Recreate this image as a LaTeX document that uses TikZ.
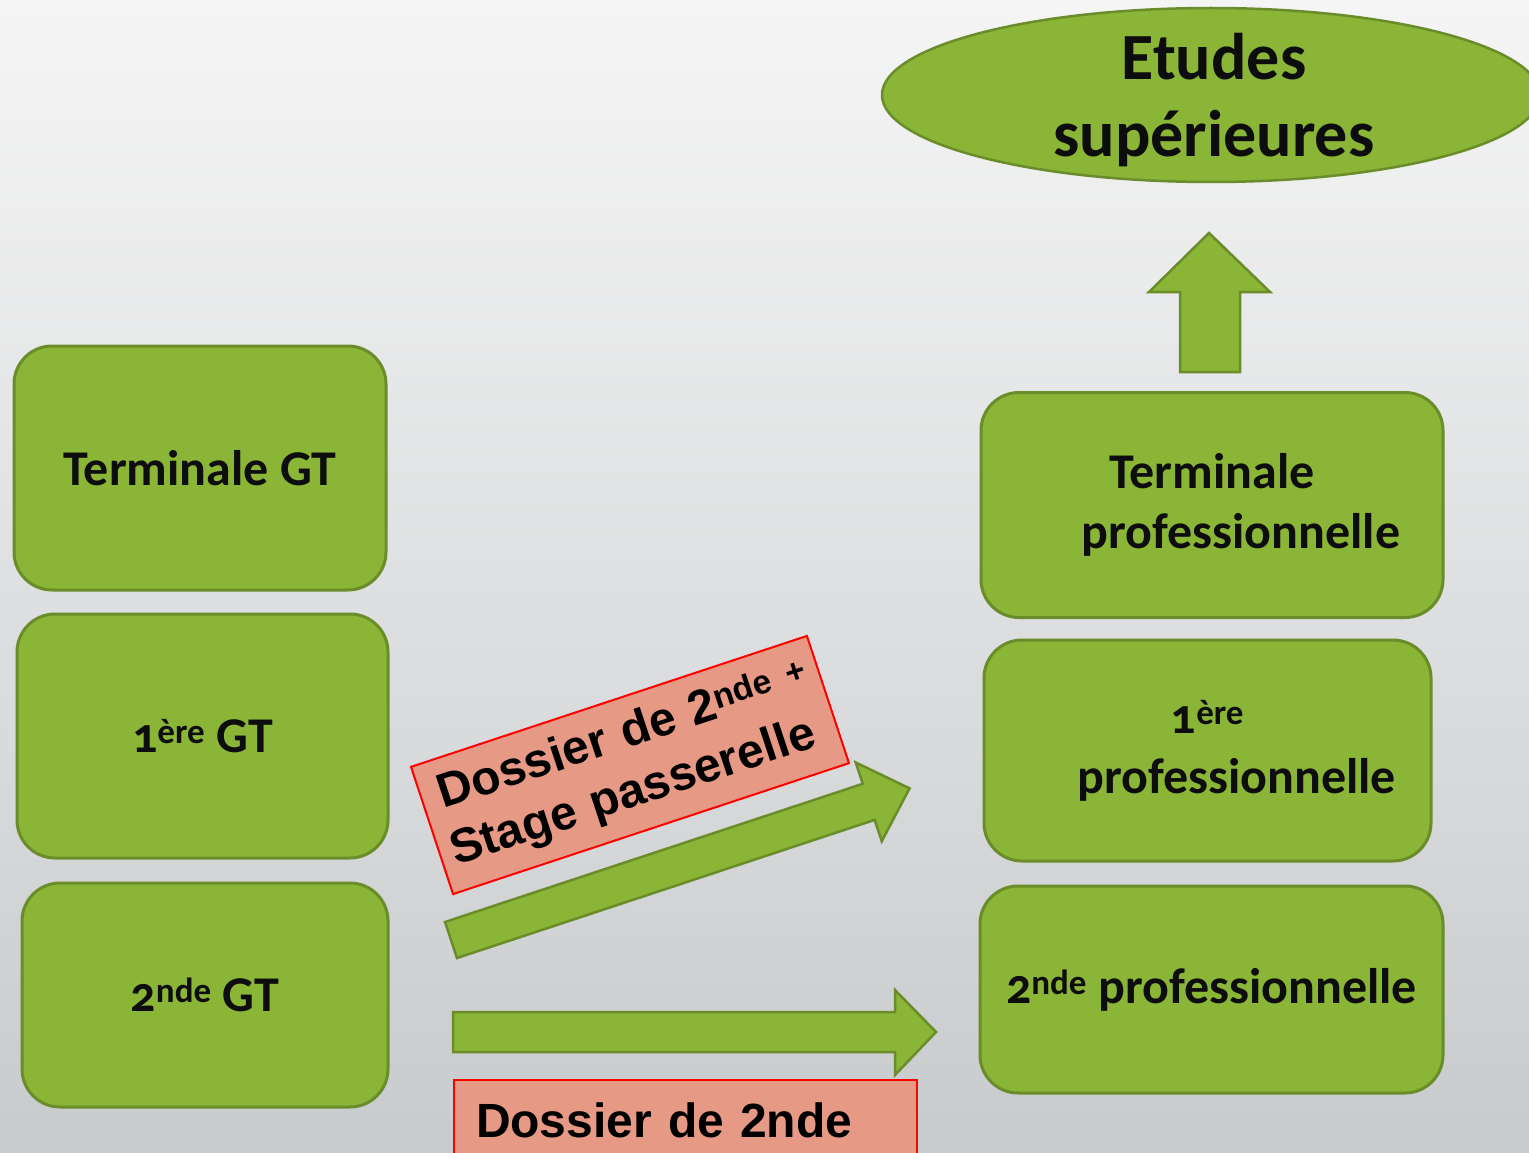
\documentclass[tikz,border=0pt]{standalone}
\usepackage{fontspec}
\newfontfamily\candfont[Numbers=OldStyle]{Carlito}
\newfontfamily\arialfont{Liberation Sans}
\definecolor{boxgreen}{HTML}{8AB536}
\definecolor{boxedge}{HTML}{6A8C2A}
\definecolor{salmon}{HTML}{E69985}
\definecolor{txt}{HTML}{0D0D0D}
\definecolor{bgtop}{HTML}{F5F5F5}
\definecolor{bgmid}{HTML}{E8E9EA}
\definecolor{bgbot}{HTML}{C8CBCD}
\begin{document}
\begin{tikzpicture}[x=1pt,y=-1pt,
  gbox/.style={draw=boxedge, line width=3pt, fill=boxgreen, rounded corners=38pt,
    inner sep=0pt, font=\candfont\bfseries\fontsize{50}{60}\selectfont, text=txt, align=center},
  blockarrow/.style={draw=boxedge, line width=2.5pt, fill=boxgreen, line join=miter},
  salbox/.style={draw=red, line width=2pt, fill=salmon, inner ysep=0pt,
    font=\arialfont\bfseries\fontsize{48}{58}\selectfont, text=black, align=left}]
\useasboundingbox (0,0) rectangle (1529,1153);
\shade[top color=bgtop, middle color=bgmid, bottom color=bgbot] (0,0) rectangle (1529,1153);

% left column
\node[gbox, minimum width=372, minimum height=244] (tgt) at (200,468) {Terminale GT};
\node[gbox, minimum width=371, minimum height=244] (pgt) at (202.5,736) {1\textsuperscript{ère} GT};
\node[gbox, minimum width=366, minimum height=224] (sgt) at (205,995) {2\textsuperscript{nde} GT};

% right column
\node[gbox, minimum width=462, minimum height=225] (tpro) at (1212,505) {Terminale\\\hspace*{58pt}professionnelle};
\node[gbox, minimum width=447, minimum height=221] (ppro) at (1207.5,750.5) {1\textsuperscript{ère}\\\hspace*{58pt}professionnelle};
\node[gbox, minimum width=463, minimum height=207] (spro) at (1211.5,989.5) {2\textsuperscript{nde} professionnelle};

% top ellipse
\draw[draw=boxedge, line width=2.5pt, fill=boxgreen] (1211,95) ellipse [x radius=329, y radius=87];
\node[font=\candfont\bfseries\fontsize{66}{77}\selectfont, text=txt, align=center] (etudes) at (1214,100) {Etudes\\supérieures};

% up arrow
\draw[blockarrow] (1180,372) -- (1180,292) -- (1149,292) -- (1209,233) -- (1270,292) -- (1240,292) -- (1240,372) -- cycle;

% horizontal arrow
\draw[blockarrow] (453,1012) -- (895,1012) -- (895,990) -- (936,1032) -- (895,1075) -- (895,1052) -- (453,1052) -- cycle;

% diagonal arrow
\begin{scope}[shift={(451,940)}, rotate=18.3]
\draw[blockarrow] (0,-19) -- (440,-19) -- (440,-41.5) -- (483,0) -- (440,41.5) -- (440,19) -- (0,19) -- cycle;
\end{scope}

% salmon labels
\node[salbox, rotate=18.3, minimum height=134, text width=393, inner xsep=12] (pass) at (630,765) {\hspace*{6pt}Dossier de 2\textsuperscript{nde +}\\Stage passerelle};
\node[salbox, anchor=north west, minimum height=80, text width=419, inner xsep=22] (dos) at (453,1079) {Dossier de 2nde};
\end{tikzpicture}
\end{document}
